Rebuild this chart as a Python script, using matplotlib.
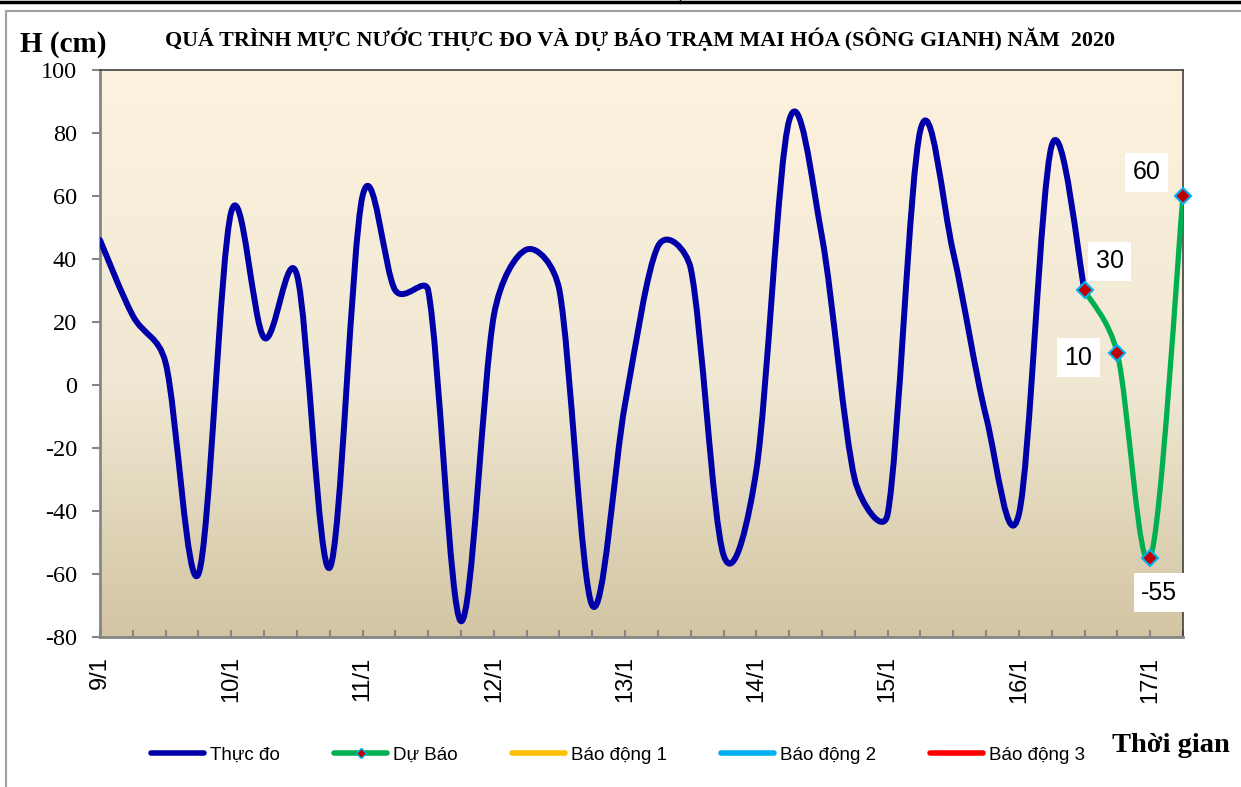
import numpy as np
import matplotlib
matplotlib.use("Agg")
import matplotlib.pyplot as plt
from matplotlib.path import Path
from matplotlib.patches import PathPatch
from matplotlib.lines import Line2D
from matplotlib.colors import LinearSegmentedColormap

# ---------------- data (6-hourly steps from 9/1 00h) ----------------
observed = [46, 22, 7, -60, 55, 15, 35, -58, 60, 30, 30, -75, 22, 43, 30, -70,
            -6, 44, 37, -54, -27, 84, 47, -30, -41, 81, 42, -10, -41, 76, 30]
forecast = [30, 10, -55, 60]
day_labels = ["9/1", "10/1", "11/1", "12/1", "13/1", "14/1", "15/1", "16/1", "17/1"]
y_ticks = [-80, -60, -40, -20, 0, 20, 40, 60, 80, 100]
legend_labels = ["Thực đo", "Dự Báo", "Báo động 1", "Báo động 2", "Báo động 3"]
title = "QUÁ TRÌNH MỰC NƯỚC THỰC ĐO VÀ DỰ BÁO TRẠM MAI HÓA (SÔNG GIANH) NĂM  2020"

steps_per_day = 4
obs_x = np.arange(len(observed))
fc_x = np.arange(len(observed) - 1, len(observed) - 1 + len(forecast))

# ---------------- style ----------------
W, H = 1241, 787
L, R, T, B = 100, 1183, 70, 637
C_OBS = "#0000A8"
C_FC = "#00B050"
C_A1 = "#FFC000"
C_A2 = "#00B0F0"
C_A3 = "#FF0000"
label_offsets = [(18, 21), (-28, -3), (6.5, -25), (-26, 17)]  # points

n_steps = len(observed) - 1 + len(forecast) - 1
SX = (R - L) / n_steps                   # px per step
SY = (B - T) / (y_ticks[-1] - y_ticks[0])  # px per unit


def smooth_path(xs, ys):
    """Excel-like smoothed line: Bezier segments with limited tangents (screen space)."""
    pts = np.column_stack([np.asarray(xs, float) * SX, np.asarray(ys, float) * SY])
    n = len(pts)
    scale = np.array([SX, SY])
    verts = [pts[0] / scale]
    codes = [Path.MOVETO]
    for i in range(n - 1):
        p0 = pts[i - 1] if i > 0 else pts[i]
        p1 = pts[i]
        p2 = pts[i + 1]
        p3 = pts[i + 2] if i + 2 < n else pts[i + 1]
        d12 = np.hypot(*(p2 - p1))
        d02 = np.hypot(*(p2 - p0))
        d13 = np.hypot(*(p3 - p1))
        f0 = 1 / 6
        f1 = 1 / 6
        if d02 / 6 >= d12 / 2 and d02 > 0:
            f0 = d12 / d02 / 2
        if d13 / 6 >= d12 / 2 and d13 > 0:
            f1 = d12 / d13 / 2
        c1 = p1 + f0 * (p2 - p0)
        c2 = p2 - f1 * (p3 - p1)
        verts += [c1 / scale, c2 / scale, p2 / scale]
        codes += [Path.CURVE4] * 3
    return Path(verts, codes)


fig = plt.figure(figsize=(W / 100, H / 100), dpi=100)
fig.patch.set_facecolor("white")
ax = fig.add_axes([L / W, 1 - B / H, (R - L) / W, (B - T) / H])

# gradient background
cmap = LinearSegmentedColormap.from_list(
    "bg", [(0.0, (211/255, 197/255, 163/255)),
           (0.45, (240/255, 232/255, 211/255)),
           (1.0, (253/255, 242/255, 222/255))])
grad = np.linspace(0, 1, 256).reshape(-1, 1)
ax.imshow(grad, cmap=cmap, origin="lower", extent=[0, 1, 0, 1],
          transform=ax.transAxes, aspect="auto", zorder=0)

ax.add_patch(PathPatch(smooth_path(obs_x, observed), fill=False, edgecolor=C_OBS,
                       lw=4.3, capstyle="round", joinstyle="round", zorder=3))
ax.add_patch(PathPatch(smooth_path(fc_x, forecast), fill=False, edgecolor=C_FC,
                       lw=3.8, capstyle="round", joinstyle="round", zorder=3))
ax.plot(fc_x, forecast, linestyle="none", marker="D", markersize=8.5,
        markerfacecolor="#C00000", markeredgecolor=C_A2, markeredgewidth=1.5,
        zorder=5, clip_on=False)

for (x, y), (dx, dy) in zip(zip(fc_x, forecast), label_offsets):
    ax.annotate(f"{y}", (x, y), xytext=(dx, dy), textcoords="offset points",
                ha="center", va="center", fontsize=18, family="Liberation Sans",
                bbox=dict(boxstyle="square,pad=0.3", fc="white", ec="none"),
                zorder=6, annotation_clip=False)

ax.set_xlim(0, n_steps)
ax.set_ylim(y_ticks[0], y_ticks[-1])

ax.set_yticks(y_ticks)
ax.set_yticklabels([str(v) for v in y_ticks], family="Liberation Serif", fontsize=17.5)
ax.tick_params(axis="y", direction="out", length=5.5, width=1.5, color="#868686", pad=11)

ax.set_xticks(np.arange(len(day_labels)) * steps_per_day)
ax.set_xticklabels(day_labels, rotation=90, family="Liberation Sans", fontsize=17)
ax.set_xticks(np.arange(0, n_steps + 1), minor=True)
ax.tick_params(axis="x", which="both", direction="in", length=5, width=1.5,
               color="#868686", pad=14)

for s in ("left", "bottom"):
    ax.spines[s].set_color("#868686")
    ax.spines[s].set_linewidth(2)
for s in ("top", "right"):
    ax.spines[s].set_color("#404040")
    ax.spines[s].set_linewidth(1.2)

# titles
fig.text(640 / W, 1 - 39 / H, title, ha="center", va="center",
         family="Liberation Serif", fontweight="bold", fontsize=15.8)
fig.text(20 / W, 1 - 45 / H, "H (cm)", ha="left", va="center",
         family="Liberation Serif", fontweight="bold", fontsize=21)
fig.text(1230 / W, 1 - 746 / H, "Thời gian", ha="right", va="center",
         family="Liberation Serif", fontweight="bold", fontsize=20.5)

# legend
handles = [
    Line2D([], [], color=C_OBS, lw=4, solid_capstyle="round"),
    Line2D([], [], color=C_FC, lw=4, solid_capstyle="round", marker="D",
           markersize=5, markerfacecolor="#C00000", markeredgecolor=C_A2),
    Line2D([], [], color=C_A1, lw=4, solid_capstyle="round"),
    Line2D([], [], color=C_A2, lw=4, solid_capstyle="round"),
    Line2D([], [], color=C_A3, lw=4, solid_capstyle="round"),
]
fig.legend(handles, legend_labels, loc="center", bbox_to_anchor=(618 / W, 1 - 755 / H),
           ncol=5, frameon=False, prop={"family": "Liberation Sans", "size": 13.5},
           handlelength=2.83, handletextpad=0.3, columnspacing=2.9)

# page decorations
fig.add_artist(Line2D([0, 1], [1 - 2 / H] * 2, transform=fig.transFigure, color="black", lw=2.5))
fig.add_artist(Line2D([680 / W] * 2, [1, 1 - 3 / H], transform=fig.transFigure, color="black", lw=1))
fig.add_artist(Line2D([6 / W, 1], [1 - 11 / H] * 2, transform=fig.transFigure, color="#A0A0A0", lw=1.5))
fig.add_artist(Line2D([6 / W] * 2, [1 - 11 / H, 0], transform=fig.transFigure, color="#A0A0A0", lw=1.5))

fig.savefig("out.png", dpi=100)
